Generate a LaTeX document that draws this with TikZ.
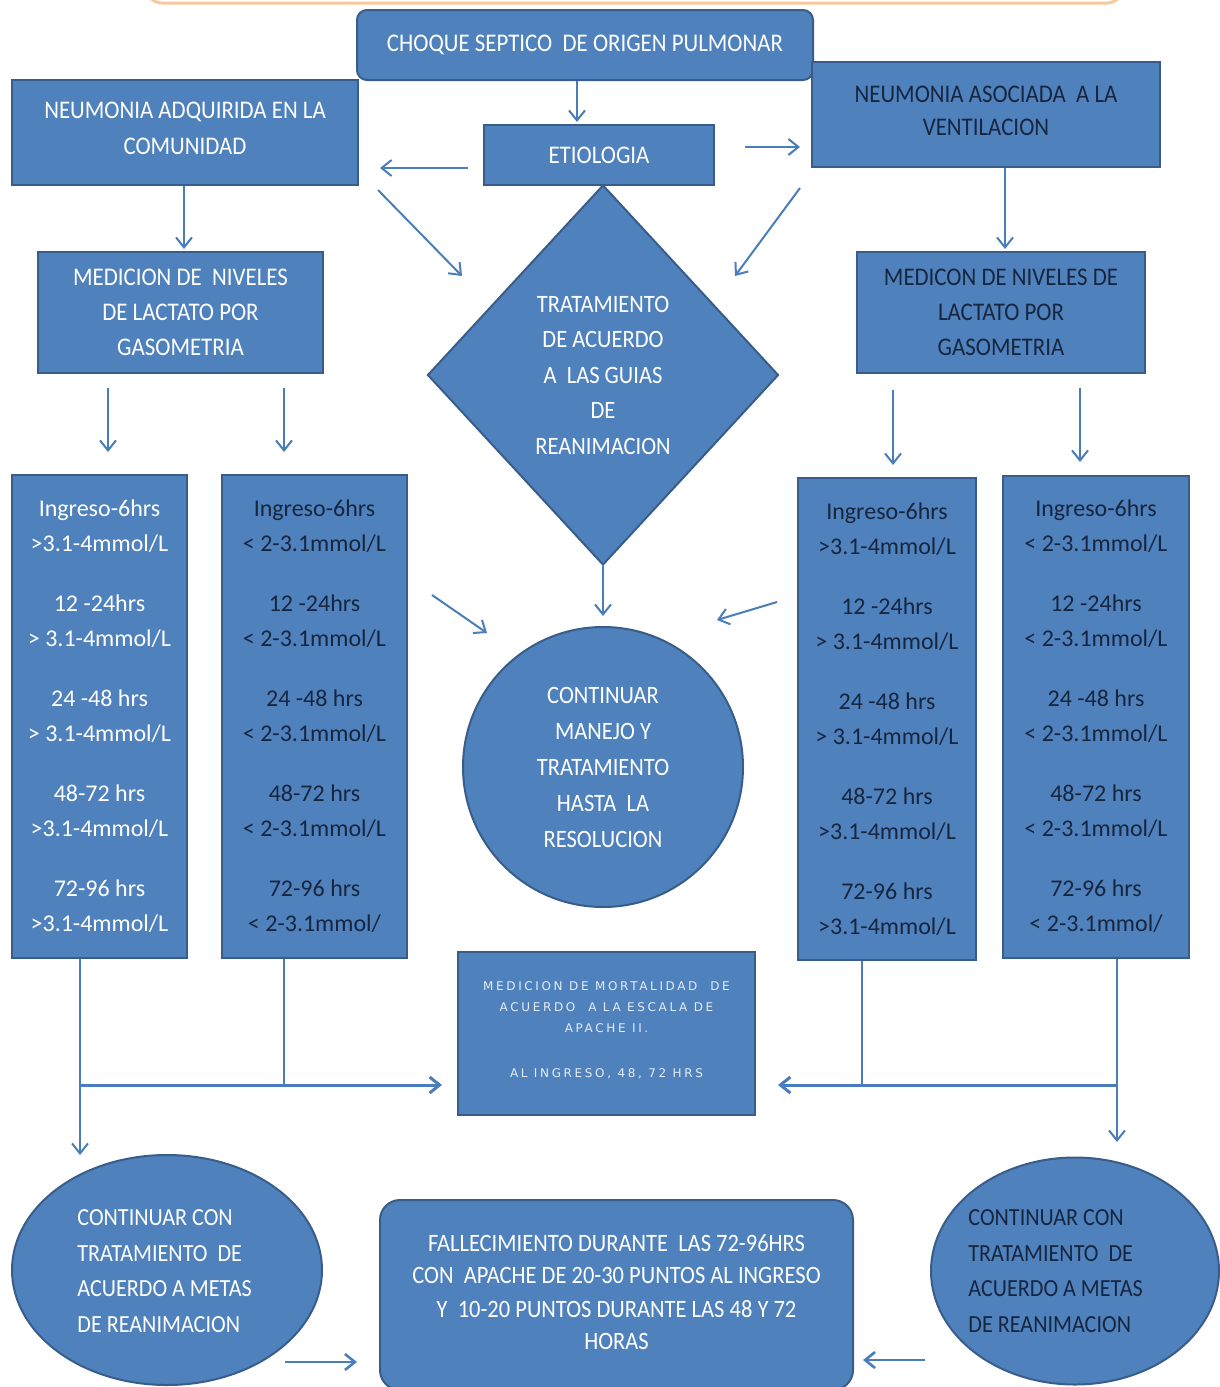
\documentclass[tikz,border=0pt]{standalone}
\usepackage{fontspec}
\setmainfont{Carlito}
\newfontfamily\capsfont{Carlito}[FakeStretch=0.9]
\newfontfamily\apfont{DejaVu Sans}[LetterSpace=22]
\usetikzlibrary{shapes.geometric,arrows.meta}
\definecolor{boxblue}{HTML}{4F81BD}
\definecolor{boxedge}{HTML}{385D8A}
\definecolor{arrowblue}{HTML}{4A7EBB}
\definecolor{darktxt}{HTML}{17263F}
\definecolor{orangeln}{HTML}{F9C89B}
\definecolor{lighttxt}{HTML}{E4ECF6}
\begin{document}
\begin{tikzpicture}[x=0.5pt,y=-0.5pt,
  blk/.style={draw=boxedge,line width=1pt,fill=boxblue,inner sep=0pt,align=center},
  caps/.style={font=\capsfont\fontsize{12.7}{17.5}\selectfont},
  coltxt/.style={font=\fontsize{12}{17.5}\selectfont},
  wt/.style={text=white},
  dk/.style={text=darktxt},
  conn/.style={draw=arrowblue,line width=1pt,-{Straight Barb[length=5pt,width=8pt]}},
  link/.style={draw=arrowblue,line width=1pt}]
\fill[white] (0,0) rectangle (1220,1387);
\useasboundingbox (0,0) rectangle (1220,1387);
% top orange frame edge
\draw[orangeln,line width=1.5pt,rounded corners=8pt] (146,-40) -- (146,3) -- (1123,3) -- (1123,-40);

% boxes
\node[blk,caps,wt,rounded corners=5pt,minimum width=228pt,minimum height=35pt] (choque) at (585,45) {CHOQUE SEPTICO\ \ DE ORIGEN PULMONAR};
\node[blk,caps,wt,minimum width=173pt,minimum height=52.5pt] (nac) at (185,132.5) {\raisebox{4pt}{\shortstack{NEUMONIA ADQUIRIDA EN LA\\[5pt]COMUNIDAD}}};
\node[blk,caps,wt,minimum width=115pt,minimum height=30pt] (etio) at (599,155) {ETIOLOGIA};
\node[blk,caps,dk,minimum width=174pt,minimum height=52.5pt] (nav) at (986,114.5) {\raisebox{3.5pt}{\shortstack{NEUMONIA ASOCIADA\ \ A LA\\[5pt]VENTILACION}}};
\node[blk,caps,wt,minimum width=142.5pt,minimum height=60.5pt] (medL) at (180.5,312.5) {MEDICION DE\ \ NIVELES\\DE LACTATO POR\\GASOMETRIA};
\node[blk,caps,dk,minimum width=144pt,minimum height=60.5pt] (medR) at (1001,312.5) {MEDICON DE NIVELES DE\\LACTATO POR\\GASOMETRIA};
\node[blk,diamond,font=\capsfont\fontsize{12.5}{17.75}\selectfont,wt,minimum width=175.5pt,minimum height=190pt] (guia) at (603,375) {TRATAMIENTO\\DE ACUERDO\\A\ \ LAS GUIAS\\DE\\REANIMACION};

% columns
\node[blk,coltxt,wt,minimum width=87.5pt,minimum height=241.5pt] (col1) at (99.5,716) {Ingreso-6hrs\\>3.1-4mmol/L\\[12.5pt]12 -24hrs\\> 3.1-4mmol/L\\[12.5pt]24 -48 hrs\\> 3.1-4mmol/L\\[12.5pt]48-72 hrs\\>3.1-4mmol/L\\[12.5pt]72-96 hrs\\>3.1-4mmol/L};
\node[blk,coltxt,dk,minimum width=92.5pt,minimum height=241.5pt] (col2) at (314.5,716) {Ingreso-6hrs\\< 2-3.1mmol/L\\[12.5pt]12 -24hrs\\< 2-3.1mmol/L\\[12.5pt]24 -48 hrs\\< 2-3.1mmol/L\\[12.5pt]48-72 hrs\\< 2-3.1mmol/L\\[12.5pt]72-96 hrs\\< 2-3.1mmol/};
\node[blk,coltxt,dk,minimum width=89pt,minimum height=241pt] (col3) at (887,719) {Ingreso-6hrs\\>3.1-4mmol/L\\[12.5pt]12 -24hrs\\> 3.1-4mmol/L\\[12.5pt]24 -48 hrs\\> 3.1-4mmol/L\\[12.5pt]48-72 hrs\\>3.1-4mmol/L\\[12.5pt]72-96 hrs\\>3.1-4mmol/L};
\node[blk,coltxt,dk,minimum width=93pt,minimum height=241pt] (col4) at (1096,716.5) {Ingreso-6hrs\\< 2-3.1mmol/L\\[12.5pt]12 -24hrs\\< 2-3.1mmol/L\\[12.5pt]24 -48 hrs\\< 2-3.1mmol/L\\[12.5pt]48-72 hrs\\< 2-3.1mmol/L\\[12.5pt]72-96 hrs\\< 2-3.1mmol/};

% circle
\node[blk,circle,font=\capsfont\fontsize{12.5}{18}\selectfont,wt,minimum size=140pt] (circ) at (603,767) {CONTINUAR\\MANEJO Y\\TRATAMIENTO\\HASTA\ \ LA\\RESOLUCION};

% apache box
\node[blk,font={\apfont\fontsize{6}{11.5}\selectfont},text=lighttxt,minimum width=148.5pt,minimum height=81.5pt] (apache) at (606.5,1033.5) {\raisebox{4pt}{\shortstack{MEDICION DE MORTALIDAD\ \ DE\\[3pt]ACUERDO\ \ A LA ESCALA DE\\[3pt]APACHE II.\\[15pt]AL INGRESO, 48, 72 HRS}}};

% bottom ellipses and box
\node[ellipse,draw=boxedge,line width=1pt,fill=boxblue,minimum width=155pt,minimum height=115pt,inner sep=0pt] (ellL) at (167,1270) {};
\node[font=\capsfont\fontsize{12.3}{17.8}\selectfont,wt,align=left,anchor=west,inner sep=0pt] (ellLt) at (77,1271) {CONTINUAR CON\\TRATAMIENTO\ \ DE\\ACUERDO A METAS\\DE REANIMACION};
\node[ellipse,draw=boxedge,line width=1pt,fill=boxblue,minimum width=144pt,minimum height=113.5pt,inner sep=0pt] (ellR) at (1075,1271) {};
\node[font=\capsfont\fontsize{12.3}{17.8}\selectfont,dk,align=left,anchor=west,inner sep=0pt] (ellRt) at (968,1271) {CONTINUAR CON\\TRATAMIENTO\ \ DE\\ACUERDO A METAS\\DE REANIMACION};
\node[blk,font=\capsfont\fontsize{12.5}{17.7}\selectfont,wt,rounded corners=10pt,minimum width=236.5pt,minimum height=95pt] (fall) at (616.5,1295) {\raisebox{3pt}{\shortstack{FALLECIMIENTO DURANTE\ \ LAS 72-96HRS\\[5pt]CON\ \ APACHE DE 20-30 PUNTOS AL INGRESO\\[5pt]Y\ \ 10-20 PUNTOS DURANTE LAS 48 Y 72\\[5pt]HORAS}}};

% coordinates for connectors
\coordinate (k1) at (577,100);
\coordinate (k4) at (184,200);
\coordinate (k5) at (1005,200);
\coordinate (e2s) at (468,168);
\coordinate (e2e) at (380,168);
\coordinate (e3s) at (745,147);
\coordinate (e3e) at (800,147);
\coordinate (d1s) at (378,190);
\coordinate (d1e) at (462,276);
\coordinate (d2s) at (800,188);
\coordinate (d2e) at (735,276);
\coordinate (m1s) at (108,388);
\coordinate (m1e) at (108,452);
\coordinate (m2s) at (284,388);
\coordinate (m2e) at (284,452);
\coordinate (m3s) at (893,390);
\coordinate (m3e) at (893,465);
\coordinate (m4s) at (1080,388);
\coordinate (m4e) at (1080,462);
\coordinate (c1s) at (432,595);
\coordinate (c1e) at (487,633);
\coordinate (c2s) at (777,602);
\coordinate (c2e) at (717,620);
\coordinate (jL1) at (80,1085);
\coordinate (jL2) at (284,1085);
\coordinate (eL) at (80,1155);
\coordinate (hL) at (442,1085);
\coordinate (jR4) at (1117,1085);
\coordinate (jR3) at (862,1085);
\coordinate (eR) at (1117,1142);
\coordinate (hR) at (778,1085);
\coordinate (b1s) at (285,1362);
\coordinate (b1e) at (357,1362);
\coordinate (b2s) at (925,1360);
\coordinate (b2e) at (863,1360);

% connectors
\draw[conn,shorten >=1pt] (choque.south -| k1) -- (etio.north -| k1);
\draw[conn] (e2s) -- (e2e);
\draw[conn] (e3s) -- (e3e);
\draw[conn,shorten >=1pt] (nac.south -| k4) -- (medL.north -| k4);
\draw[conn,shorten >=1pt] (nav.south -| k5) -- (medR.north -| k5);
\draw[conn] (d1s) -- (d1e);
\draw[conn] (d2s) -- (d2e);
\draw[conn] (m1s) -- (m1e);
\draw[conn] (m2s) -- (m2e);
\draw[conn] (m3s) -- (m3e);
\draw[conn] (m4s) -- (m4e);
\draw[conn,shorten >=5pt] (guia.south) -- (circ.north);
\draw[conn] (c1s) -- (c1e);
\draw[conn] (c2s) -- (c2e);
\draw[conn] (col1.south -| jL1) -- (eL);
\draw[link] (col2.south -| jL2) -- (jL2);
\draw[conn,line width=1.5pt] (jL1) -- (hL);
\draw[conn] (col4.south -| jR4) -- (eR);
\draw[link] (col3.south -| jR3) -- (jR3);
\draw[conn,line width=1.5pt] (jR4) -- (hR);
\draw[conn,line width=1.3pt] (b1s) -- (b1e);
\draw[conn,line width=1.3pt] (b2s) -- (b2e);
\end{tikzpicture}
\end{document}
